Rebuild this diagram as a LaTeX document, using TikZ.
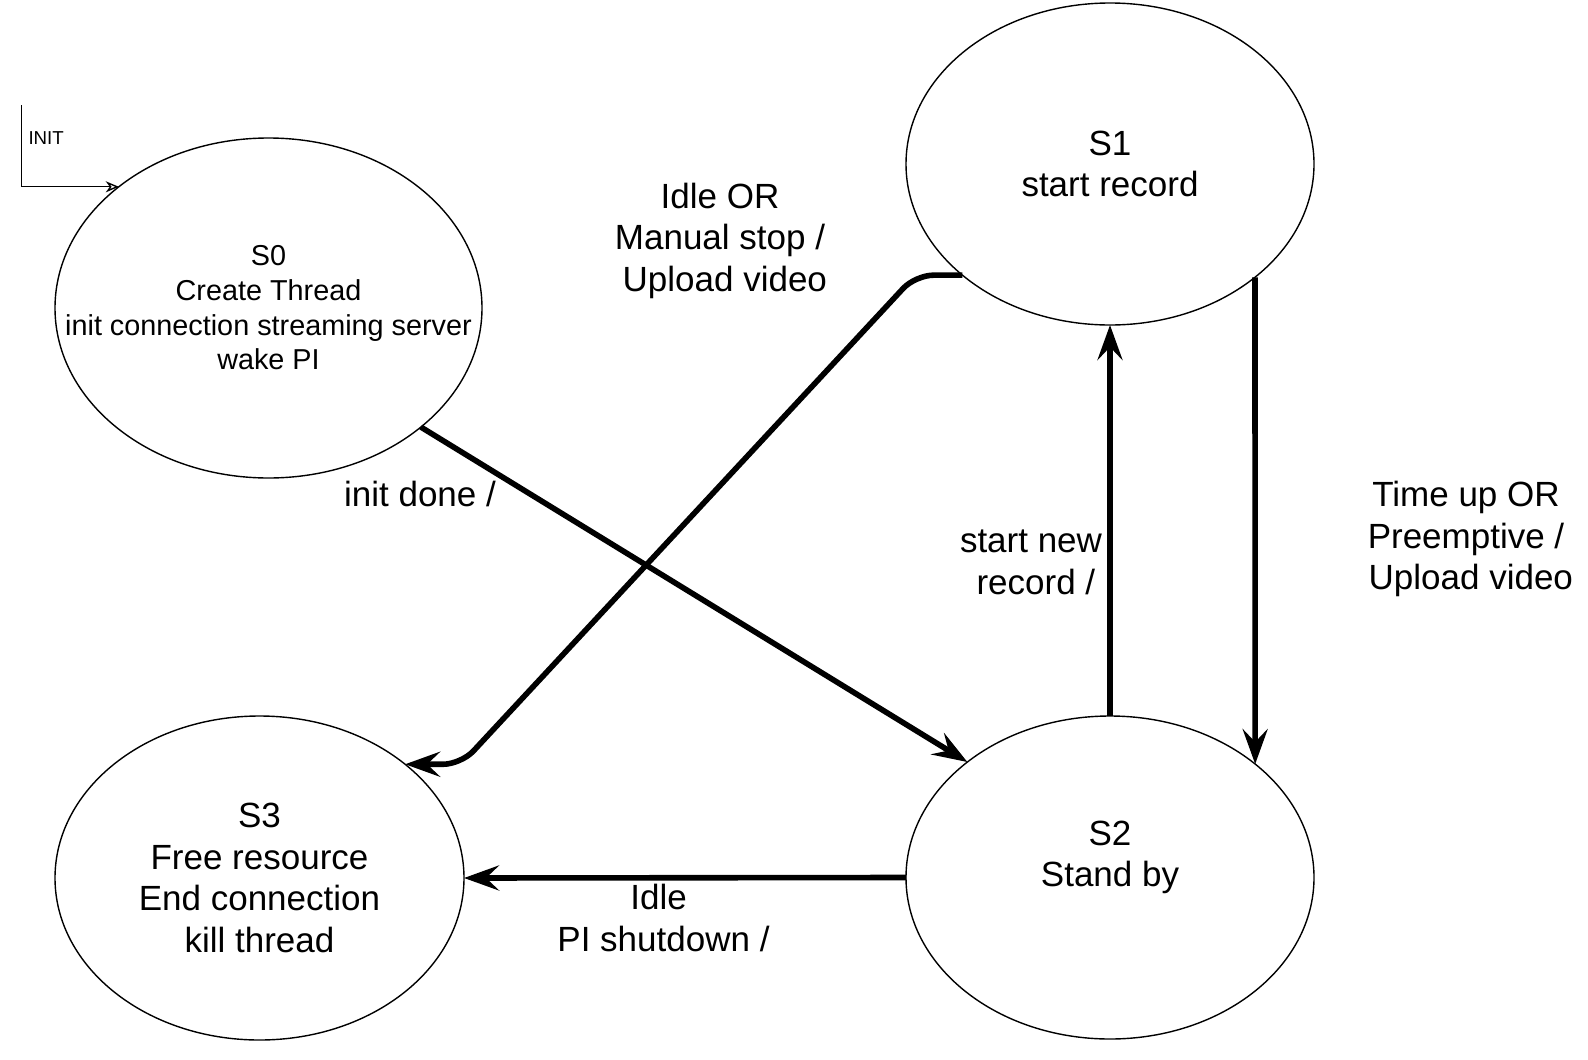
\documentclass[tikz,border=0pt]{standalone}
\usepackage{fontspec}
\setmainfont{Liberation Sans}
\usetikzlibrary{arrows.meta,shapes.geometric,calc}
\begin{document}
\begin{tikzpicture}[x=1pt,y=-1pt,
  state/.style={draw, ellipse, line width=1.4pt, inner sep=0pt, outer sep=0pt},
  stxt/.style={align=center, inner sep=0pt, font=\fontsize{35}{41.5}\selectfont},
  stxtsmall/.style={align=center, inner sep=0pt, font=\fontsize{28.8}{34.7}\selectfont},
  lbl/.style={align=center, inner sep=0pt, font=\fontsize{35}{41.5}\selectfont},
  edge/.style={line width=5.6pt, -{Stealth[length=35pt,width=25pt,inset=13pt]}},
  initedge/.style={line width=1.4pt, -{Stealth[open,length=13pt,width=11pt,inset=4pt]}}]
\useasboundingbox (0,0) rectangle (1588,1060);
\fill[white] (0,0) rectangle (1588,1060);

% states
\node[state, minimum width=427pt, minimum height=340pt] (s0) at (268.5,308) {};
\node[state, minimum width=408pt, minimum height=322pt] (s1) at (1110,164) {};
\node[state, minimum width=408pt, minimum height=323pt] (s2) at (1110,877.5) {};
\node[state, minimum width=409pt, minimum height=324pt] (s3) at (259.5,878) {};

\node[stxtsmall] (s0t) at (s0) {S0\\Create Thread\\init connection streaming server\\wake PI};
\node[stxt] (s1t) at (s1) {S1\\start record};
\node[stxt] (s2t) at ($(s2)+(0,-20)$) {S2\\Stand by};
\node[stxt] (s3t) at (s3) {S3\\Free resource\\End connection\\kill thread};

% initial arrow
\coordinate (init) at (21.7,105);
\node[anchor=west, inner sep=0pt, font=\fontsize{18.7}{22}\selectfont] (initl) at (28.3,137.7) {INIT};
\draw[initedge] (init) |- (s0.141.44);

% transitions
\draw[edge] (s0.-38.75) -- (s2.141.7);
\draw[edge, rounded corners=18pt] (s1.217.5) -- ++(-47,0) -- ($(s3.38.25)+(56,0)$) -- (s3.38.25);
\draw[edge] (s2.north) -- (s1.south);
\draw[edge] (s1.-38) -- (s2.38);
\draw[edge] (s2.west) -- (s3.east);

% labels
\node[lbl] (la) at (720,240.75) {Idle OR\\Manual stop /\\\mbox{}\ Upload video};
\node[lbl] (lb) at (1466,539.2) {Time up OR\\Preemptive /\\\mbox{}\ Upload video};
\node[lbl] (lc) at (420,494) {init done /};
\node[lbl] (ld) at (1031,562.5) {start new\\\mbox{}\ record /};
\node[lbl] (le) at (663.5,918.2) {Idle\ \mbox{}\\PI shutdown /};
\end{tikzpicture}
\end{document}
